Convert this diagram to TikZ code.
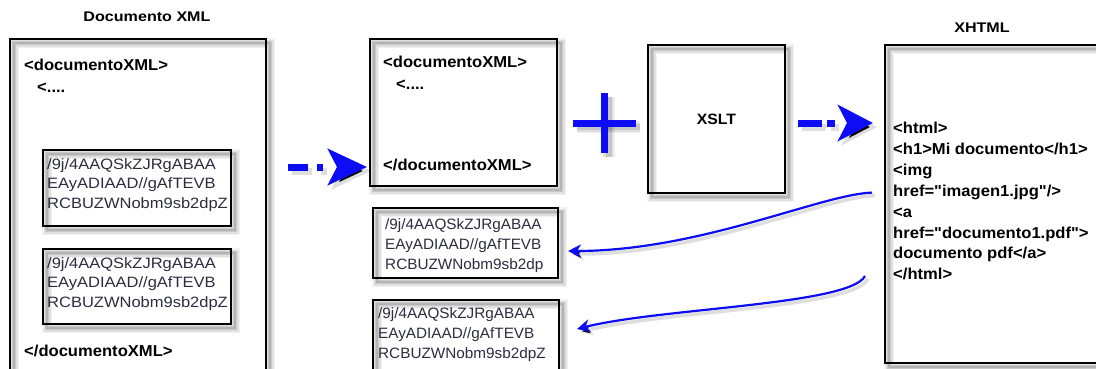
\documentclass[tikz,border=0pt]{standalone}
\usepackage{fontspec}
\setmainfont{Liberation Sans}
\newfontfamily\tagfont[FakeStretch=1.05]{Liberation Sans}
\newfontfamily\titlefont[FakeStretch=1.15]{Liberation Sans}
\newfontfamily\codefontA[FakeStretch=1.10]{Liberation Sans}
\newfontfamily\codefontB[FakeStretch=1.02]{Liberation Sans}
\usetikzlibrary{arrows.meta,calc}
\pgfdeclarelayer{back}
\pgfdeclarelayer{shade}
\pgfsetlayers{back,shade,main}
\definecolor{codegray}{RGB}{45,45,62}
\definecolor{arrowblue}{RGB}{12,12,245}
\newcommand\boxshade[1]{%
  \begin{pgfonlayer}{shade}
  \foreach \w/\o in {10/0.05,7/0.07,4/0.10,2/0.10}{%
    \draw[black, line width=\w pt, draw opacity=\o]
      ([shift={(4,4)}]#1.north west) rectangle ([shift={(4,4)}]#1.south east);}
  \end{pgfonlayer}}
\begin{document}
\begin{tikzpicture}[x=1pt,y=-1pt,
  box/.style={draw=black, line width=2.5pt, inner sep=0pt, outer sep=0pt, anchor=north west},
  tag/.style={font=\tagfont\bfseries\fontsize{15.8pt}{19pt}\selectfont, anchor=west, inner sep=0pt, text height=11.4pt, text depth=0pt},
  titletext/.style={font=\titlefont\bfseries\fontsize{14pt}{16pt}\selectfont, inner sep=0pt},
  code/.style={align=left, anchor=west, inner sep=0pt, text=codegray},
  codeA/.style={code, font=\codefontA\fontsize{15pt}{19.5pt}\selectfont},
  codeB/.style={code, font=\codefontB\fontsize{15pt}{20pt}\selectfont},
  dasharrowA/.style={line width=7pt, dash pattern=on 20pt off 9pt on 6pt off 40pt,
    -{Stealth[length=39pt, width=36pt, inset=9pt]}},
  dasharrowB/.style={line width=7pt, dash pattern=on 24pt off 5pt on 8pt off 40pt,
    -{Stealth[length=35pt, width=36pt, inset=9pt]}},
  curvearrow/.style={line width=2.2pt, -{Stealth[length=13pt, width=13pt, inset=4pt]}},
  blueink/.style={draw=arrowblue},
  shadeink/.style={draw=black, draw opacity=0.13},
  plusline/.style={line width=7pt}
]
\useasboundingbox (0,0) rectangle (1096,368);
\begin{pgfonlayer}{back}
\fill[white] (0,0) rectangle (1096,368);
\end{pgfonlayer}
\clip (0,0) rectangle (1096,368);

% titles
\node[titletext] (t1) at (147,17) {Documento XML};
\node[titletext] (t2) at (982,28) {XHTML};

% left XML document
\node[box, minimum width=256pt, minimum height=345pt] (leftbox) at (10,39) {};
\node[tag] (l1) at (24,65) {<documentoXML>};
\node[tag] (l2) at (37,86.5) {<....};
\node[tag] (l3) at (24,351) {</documentoXML>};
\node[box, minimum width=188pt, minimum height=76pt] (c1) at (43,150) {};
\node[codeA] (c1t) at (47,185) {/9j/4AAQSkZJRgABAA\\EAyADIAAD//gAfTEVB\\RCBUZWNobm9sb2dpZ};
\node[box, minimum width=188pt, minimum height=75pt] (c2) at (43,249) {};
\node[codeA] (c2t) at (47,284) {/9j/4AAQSkZJRgABAA\\EAyADIAAD//gAfTEVB\\RCBUZWNobm9sb2dpZ};

% middle XML document
\node[box, minimum width=187pt, minimum height=147pt] (midbox) at (370,39) {};
\node[tag] (m1) at (383,62) {<documentoXML>};
\node[tag] (m2) at (396,83.5) {<....};
\node[tag] (m3) at (383,165) {</documentoXML>};

% extracted binaries
\node[box, minimum width=185pt, minimum height=70pt] (c3) at (373,208) {};
\node[codeB] (c3t) at (385,245.5) {/9j/4AAQSkZJRgABAA\\EAyADIAAD//gAfTEVB\\RCBUZWNobm9sb2dp};
\node[box, minimum width=186pt, minimum height=80pt] (c4) at (373,300) {};
\node[codeB] (c4t) at (378,334.5) {/9j/4AAQSkZJRgABAA\\EAyADIAAD//gAfTEVB\\RCBUZWNobm9sb2dpZ};

% XSLT
\node[box, anchor=center, minimum width=137pt, minimum height=148pt,
      font=\tagfont\bfseries\fontsize{15pt}{17pt}\selectfont] (xslt) at (716.5,119) {XSLT};

% XHTML
\node[box, minimum width=230pt, minimum height=318pt] (xhtml) at (885,45) {};
\node[tag] (x1) at (893,128) {<html>};
\node[tag] (x2) at (893,148.86) {<h1>Mi documento</h1>};
\node[tag] (x3) at (893,169.72) {<img};
\node[tag] (x4) at (893,190.58) {href="imagen1.jpg"/>};
\node[tag] (x5) at (893,211.44) {<a};
\node[tag] (x6) at (893,232.3) {href="documento1.pdf">};
\node[tag] (x7) at (893,253.16) {documento pdf</a>};
\node[tag] (x8) at (893,274) {</html>};

% plus
\node[inner sep=0pt] (plus) at (604.5,123) {};

% box shadows
\boxshade{leftbox}\boxshade{c1}\boxshade{c2}\boxshade{midbox}
\boxshade{c3}\boxshade{c4}\boxshade{xslt}\boxshade{xhtml}

% plus sign (shadow, then ink)
\begin{pgfonlayer}{shade}
\foreach \w/\o in {12/0.06,9/0.08,6/0.10}{%
  \draw[black, line width=\w pt, draw opacity=\o] ($(plus)+(-27.5,4)$) -- ($(plus)+(35.5,4)$);
  \draw[black, line width=\w pt, draw opacity=\o] ($(plus)+(4,-26)$) -- ($(plus)+(4,34)$);}
\end{pgfonlayer}
\draw[blueink, plusline] ($(plus)+(-31.5,0)$) -- ($(plus)+(31.5,0)$);
\draw[blueink, plusline] ($(plus)+(0,-30)$) -- ($(plus)+(0,30)$);

% dashed arrows (shadow, then ink)
\begin{pgfonlayer}{shade}
\draw[shadeink, dasharrowA] ($(leftbox.east |- m3.west)+(26,6)$) -- ($(midbox.west |- m3.west)+(1,6)$);
\draw[shadeink, dasharrowB] ($(xslt.east)+(17,8)$) -- ($(xhtml.west |- xslt.east)+(-8,8)$);
\end{pgfonlayer}
\draw[blueink, dasharrowA] ($(leftbox.east |- m3.west)+(22,2)$) -- ($(midbox.west |- m3.west)+(-3,2)$);
\draw[blueink, dasharrowB] ($(xslt.east)+(13,4)$) -- ($(xhtml.west |- xslt.east)+(-12,4)$);

% curved arrows (shadow, then ink)
\begin{pgfonlayer}{shade}
\draw[shadeink, curvearrow, line width=3.5pt] ($(x4.west)+(-18,5)$) .. controls +(-52,2) and +(132,0) .. ($(c3.east)+(13,11)$);
\draw[shadeink, curvearrow, line width=3.5pt] ($(x8.west)+(-25,5)$) .. controls +(-15,29) and +(83,-21) .. ($(c4.north east)+(21,32)$);
\end{pgfonlayer}
\draw[blueink, curvearrow] ($(x4.west)+(-21,2)$) .. controls +(-52,2) and +(132,0) .. ($(c3.east)+(10,8)$);
\draw[blueink, curvearrow] ($(x8.west)+(-28,2)$) .. controls +(-15,29) and +(83,-21) .. ($(c4.north east)+(18,29)$);
\end{tikzpicture}
\end{document}
